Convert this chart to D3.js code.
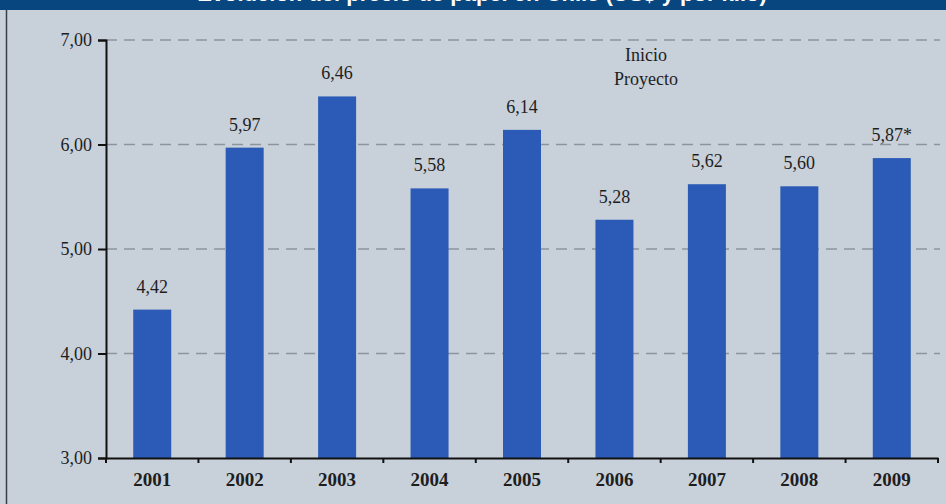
<!DOCTYPE html>
<html><head><meta charset="utf-8">
<script src="https://cdn.jsdelivr.net/npm/d3@7"></script>
<style>html,body{margin:0;padding:0;background:#c7cfd9;}svg{display:block;}</style>
</head><body>
<svg id="c" width="946" height="504"></svg>
<script>
const years = ["2001","2002","2003","2004","2005","2006","2007","2008","2009"];
const prices = [4.42, 5.97, 6.46, 5.58, 6.14, 5.28, 5.62, 5.60, 5.87];
const valueLabels = ["4,42","5,97","6,46","5,58","6,14","5,28","5,62","5,60","5,87*"];
const yTicks = [3, 4, 5, 6, 7];
const yTickLabels = ["3,00","4,00","5,00","6,00","7,00"];
const titleText = "Evolución del precio de papel en Chile (US$ y por kilo)";
const noteLines = ["Inicio", "Proyecto"];

const svg = d3.select("#c");
const W = 946, H = 504;
const m = {left: 106, right: 8, top: 40, bottom: 46};
const serif = "'Liberation Serif','DejaVu Serif',serif";

svg.append("rect").attr("width", W).attr("height", H).attr("fill", "#c8d0da");
// title bar (cut off at top, as in the reference)
svg.append("rect").attr("x", 0).attr("y", 0).attr("width", W).attr("height", 10).attr("fill", "#07467f");
svg.append("text").attr("x", 482).attr("y", 1).attr("text-anchor", "middle")
  .attr("fill", "#fff").attr("font-family", "'Liberation Sans',Arial,sans-serif")
  .attr("font-weight", "bold").attr("font-size", 22).text(titleText);
// left frame line
svg.append("line").attr("x1", 6.5).attr("x2", 6.5).attr("y1", 10).attr("y2", H)
  .attr("stroke", "#3a3f46").attr("stroke-width", 1.5);

const x = d3.scaleBand().domain(years).range([m.left, W - m.right]).paddingInner(0).paddingOuter(0);
const y = d3.scaleLinear().domain([3, 7]).range([H - m.bottom, m.top]);

// gridlines
svg.append("g").selectAll("line").data(yTicks.filter(d => d > 3)).join("line")
  .attr("x1", m.left).attr("x2", W - 6)
  .attr("y1", d => y(d)).attr("y2", d => y(d))
  .attr("stroke", "#8c949e").attr("stroke-width", 1.6).attr("stroke-dasharray", "11,7");

// bars
const bw = 38;
svg.append("g").selectAll("rect").data(prices).join("rect")
  .attr("x", (d, i) => x(years[i]) + x.bandwidth() / 2 - bw / 2)
  .attr("width", bw)
  .attr("y", d => y(d))
  .attr("height", d => y(3) - y(d))
  .attr("fill", "#2b5bb6");

// value labels
svg.append("g").selectAll("text").data(prices).join("text")
  .attr("x", (d, i) => x(years[i]) + x.bandwidth() / 2)
  .attr("y", d => y(d) - 17)
  .attr("text-anchor", "middle")
  .attr("font-family", serif).attr("font-size", 18).attr("fill", "#1e1e1e")
  .text((d, i) => valueLabels[i]);

// y axis
const yAxis = svg.append("g").attr("transform", `translate(${m.left},0)`)
  .call(d3.axisLeft(y).tickValues(yTicks).tickFormat((d, i) => yTickLabels[i]).tickSize(8).tickPadding(6));
yAxis.select(".domain").attr("stroke", "#111").attr("stroke-width", 2);
yAxis.selectAll(".tick line").attr("stroke", "#111").attr("stroke-width", 2);
yAxis.selectAll("text").attr("font-family", serif).attr("font-size", 18).attr("fill", "#1e1e1e");

// x axis
const xAxis = svg.append("g").attr("transform", `translate(0,${y(3)})`)
  .call(d3.axisBottom(x).tickSize(0).tickPadding(15));
xAxis.select(".domain").attr("stroke", "#111").attr("stroke-width", 2);
xAxis.selectAll("text").attr("font-family", serif).attr("font-size", 19)
  .attr("font-weight", "bold").attr("fill", "#1e1e1e");
// boundary ticks
const bounds = years.map(d => x(d)).concat([x(years[years.length - 1]) + x.bandwidth()]);
svg.append("g").selectAll("line").data(bounds).join("line")
  .attr("x1", d => d).attr("x2", d => d)
  .attr("y1", y(3)).attr("y2", y(3) + 5)
  .attr("stroke", "#111").attr("stroke-width", 2);

// annotation
svg.append("g").selectAll("text").data(noteLines).join("text")
  .attr("x", 646).attr("y", (d, i) => 61 + i * 24)
  .attr("text-anchor", "middle")
  .attr("font-family", serif).attr("font-size", 18).attr("fill", "#1e1e1e")
  .text(d => d);
</script>
</body></html>
